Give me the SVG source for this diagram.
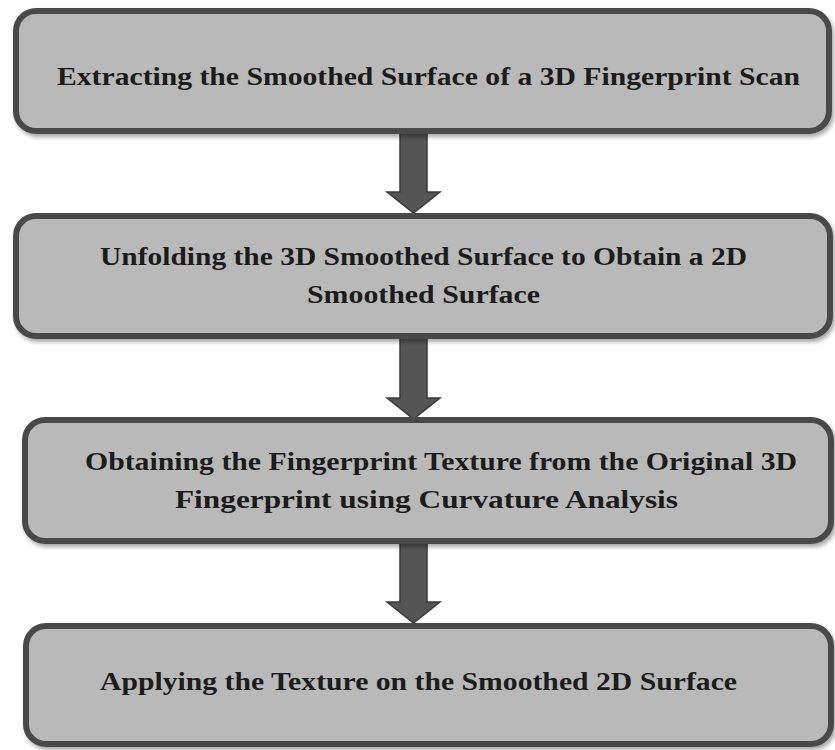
<svg xmlns="http://www.w3.org/2000/svg" width="835" height="750" viewBox="0 0 835 750">
<defs>
<filter id="sh" x="-5%" y="-10%" width="110%" height="125%">
<feGaussianBlur in="SourceAlpha" stdDeviation="2"/>
<feOffset dx="2" dy="3" result="b"/>
<feComponentTransfer><feFuncA type="linear" slope="0.35"/></feComponentTransfer>
<feMerge><feMergeNode/><feMergeNode in="SourceGraphic"/></feMerge>
</filter>
</defs>
<style>
.box{fill:#b9b9b9;stroke:#4a4a4a;stroke-width:6}
.t{font-family:"Liberation Serif","Times New Roman",serif;font-weight:bold;font-size:26px;fill:#1c1c1c}
.arr{fill:#555555;stroke:#3a3a3a;stroke-width:1.5}
</style>
<rect width="835" height="750" fill="#ffffff"/>
<g id="connectors">
<polygon class="arr" points="400,133 427,133 427,192 440,192 413.5,213 387,192 400,192"/>
<polygon class="arr" points="400,338 427,338 427,398 440,398 413.5,419 387,398 400,398"/>
<polygon class="arr" points="400,543 427,543 427,602 440,602 413.5,623 387,602 400,602"/>
</g>
<g id="node1">
<rect class="box" x="16" y="11" width="813" height="120" rx="20" filter="url(#sh)"/>
<text class="t" x="57" y="85" textLength="743" lengthAdjust="spacingAndGlyphs">Extracting the Smoothed Surface of a 3D Fingerprint Scan</text>
</g>
<g id="node2">
<rect class="box" x="16" y="216" width="814" height="120" rx="20" filter="url(#sh)"/>
<text class="t" x="100" y="265" textLength="647" lengthAdjust="spacingAndGlyphs">Unfolding the 3D Smoothed Surface to Obtain a 2D</text>
<text class="t" x="307" y="303" textLength="233" lengthAdjust="spacingAndGlyphs">Smoothed Surface</text>
</g>
<g id="node3">
<rect class="box" x="25" y="420" width="806" height="121" rx="20" filter="url(#sh)"/>
<text class="t" x="85" y="470" textLength="712" lengthAdjust="spacingAndGlyphs">Obtaining the Fingerprint Texture from the Original 3D</text>
<text class="t" x="175" y="508" textLength="503" lengthAdjust="spacingAndGlyphs">Fingerprint using Curvature Analysis</text>
</g>
<g id="node4">
<rect class="box" x="26" y="626" width="805" height="118" rx="20" filter="url(#sh)"/>
<text class="t" x="100" y="690" textLength="637" lengthAdjust="spacingAndGlyphs">Applying the Texture on the Smoothed 2D Surface</text>
</g>
</svg>
